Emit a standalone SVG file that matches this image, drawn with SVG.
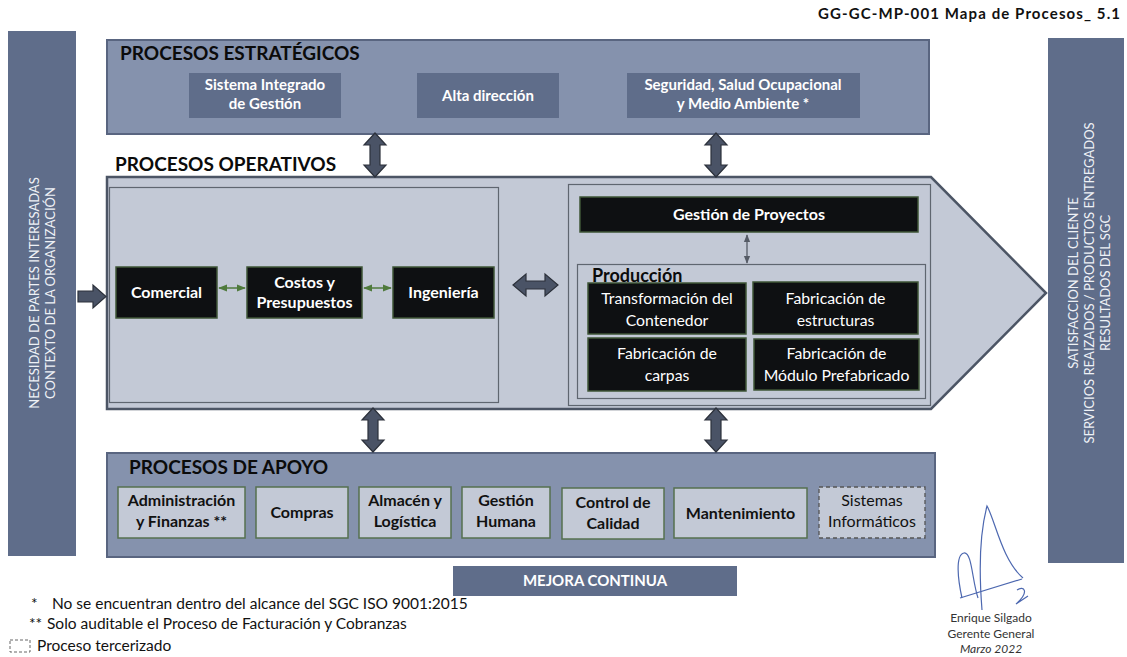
<svg xmlns="http://www.w3.org/2000/svg" width="1127" height="657" viewBox="0 0 1127 657">
<style>
text{font-family:Lato,"Open Sans","Liberation Sans",sans-serif}
.bar{fill:#5f6d8a}
.grp{fill:#8592ad;stroke:#596580;stroke-width:2}
.sub{fill:#5f6d8a}
.light{fill:#c3c9d6}
.blk{fill:#0e1012;stroke:#3f5537;stroke-width:1.5}
.sup{fill:#c3c9d6;stroke:#56704f;stroke-width:1.5}
.arr{fill:#4a5366;stroke:#2c313b;stroke-width:1.2}
.h{font-weight:700;font-size:19px;fill:#0b0b0b}
.sb{font-weight:700;font-size:15px;fill:#fff;text-anchor:middle}
.wb{font-weight:700;font-size:16px;fill:#fff;text-anchor:middle}
.wn{font-size:15.8px;fill:#fff;text-anchor:middle}
.db{font-weight:700;font-size:16px;fill:#111;text-anchor:middle}
.side{font-size:13px;fill:#eef1f6;text-anchor:middle}
.leg{font-size:15.5px;fill:#111}
.sig{font-size:12px;fill:#333;text-anchor:middle}
</style>
<defs>
<path id="vdarrow" d="M0,0 L11,12 L5,12 L5,32 L11,32 L0,44 L-11,32 L-5,32 L-5,12 L-11,12 Z"/>
<marker id="ga" viewBox="0 0 10 10" refX="9" refY="5" markerWidth="6" markerHeight="6" orient="auto-start-reverse"><path d="M0,1 L10,5 L0,9 Z" fill="#4f7a3c"/></marker>
<marker id="sa" viewBox="0 0 10 10" refX="9" refY="5" markerWidth="6" markerHeight="6" orient="auto-start-reverse"><path d="M0,1 L10,5 L0,9 Z" fill="#555b66"/></marker>
</defs>
<rect width="1127" height="657" fill="#fff"/>

<text x="1120" y="19" text-anchor="end" font-weight="700" font-size="15" fill="#111" textLength="302">GG-GC-MP-001 Mapa de Procesos_ 5.1</text>

<g id="entrada">
<rect class="bar" x="8" y="31" width="68" height="525"/>
<text class="side" transform="translate(39,293) rotate(-90)">NECESIDAD DE  PARTES INTERESADAS</text>
<text class="side" transform="translate(55,293) rotate(-90)">CONTEXTO DE LA ORGANIZACIÓN</text>
</g>

<g id="salida">
<rect class="bar" x="1048" y="38" width="76" height="525"/>
<text class="side" transform="translate(1078,283) rotate(-90)">SATISFACCION DEL CLIENTE</text>
<text class="side" transform="translate(1094,283) rotate(-90)">SERVICIOS REAIZADOS / PRODUCTOS ENTREGADOS</text>
<text class="side" transform="translate(1110,283) rotate(-90)">RESULTADOS DEL SGC</text>
</g>

<g id="estrategicos">
<rect class="grp" x="107" y="40" width="822" height="94"/>
<text class="h" x="120" y="60">PROCESOS ESTRATÉGICOS</text>
<g id="sig-gestion"><rect class="sub" x="189" y="73" width="152" height="45"/>
<text class="sb" x="265" y="90">Sistema Integrado</text><text class="sb" x="265" y="109">de Gestión</text></g>
<g id="alta-direccion"><rect class="sub" x="417" y="73" width="142" height="45"/>
<text class="sb" x="488" y="101">Alta dirección</text></g>
<g id="ssoma"><rect class="sub" x="627" y="73" width="233" height="45"/>
<text class="sb" x="743" y="90">Seguridad, Salud Ocupacional</text><text class="sb" x="743" y="109">y Medio Ambiente *</text></g>
</g>

<text class="h" x="115" y="171">PROCESOS OPERATIVOS</text>

<g id="operativos">
<path d="M107,177 L931,177 L1046,293 L931,409 L107,409 Z" class="light" stroke="#4c5565" stroke-width="2.5"/>
<rect x="109.5" y="187.5" width="389" height="215" fill="none" stroke="#5f6670" stroke-width="1.2"/>
<rect x="568.5" y="184.5" width="362" height="221" fill="none" stroke="#5f6670" stroke-width="1.2"/>
<g id="comercial"><rect class="blk" x="116" y="267" width="101" height="51"/><text class="wb" x="166.5" y="298">Comercial</text></g>
<g id="costos"><rect class="blk" x="247" y="267" width="115" height="51"/><text class="wb" x="304.5" y="288">Costos y</text><text class="wb" x="304.5" y="308">Presupuestos</text></g>
<g id="ingenieria"><rect class="blk" x="393" y="267" width="101" height="51"/><text class="wb" x="443.5" y="298">Ingeniería</text></g>
<g id="gestion-proyectos"><rect class="blk" x="580" y="197" width="338" height="35"/><text class="wb" x="749" y="220">Gestión de Proyectos</text></g>
<g id="produccion">
<rect x="577.5" y="264.5" width="348" height="134" fill="none" stroke="#5f6670" stroke-width="1.2"/>
<text x="592" y="282" font-weight="700" font-size="18" fill="#0b0b0b">Producción</text>
<g id="transformacion"><rect class="blk" x="588" y="283" width="158" height="51"/><text class="wn" x="667" y="304">Transformación del</text><text class="wn" x="667" y="326">Contenedor</text></g>
<g id="estructuras"><rect class="blk" x="753" y="282" width="165" height="52"/><text class="wn" x="835.5" y="304">Fabricación de</text><text class="wn" x="835.5" y="326">estructuras</text></g>
<g id="carpas"><rect class="blk" x="588" y="338" width="158" height="53"/><text class="wn" x="667" y="359">Fabricación de</text><text class="wn" x="667" y="381">carpas</text></g>
<g id="modulo"><rect class="blk" x="754" y="339" width="165" height="51"/><text class="wn" x="836.5" y="359">Fabricación de</text><text class="wn" x="836.5" y="381">Módulo Prefabricado</text></g>
</g>
</g>

<g id="apoyo">
<rect class="grp" x="107" y="453" width="828" height="104"/>
<text class="h" x="129" y="474">PROCESOS DE APOYO</text>
<g id="administracion"><rect class="sup" x="118" y="487" width="127" height="51"/><text class="db" x="181.5" y="506">Administración</text><text class="db" x="181.5" y="527">y Finanzas **</text></g>
<g id="compras"><rect class="sup" x="256" y="487" width="92" height="51"/><text class="db" x="302" y="518">Compras</text></g>
<g id="almacen"><rect class="sup" x="359" y="487" width="92" height="51"/><text class="db" x="405" y="506">Almacén y</text><text class="db" x="405" y="527">Logística</text></g>
<g id="gestion-humana"><rect class="sup" x="462" y="487" width="88" height="51"/><text class="db" x="506" y="506">Gestión</text><text class="db" x="506" y="527">Humana</text></g>
<g id="control-calidad"><rect class="sup" x="562" y="488" width="102" height="51"/><text class="db" x="613" y="508">Control de</text><text class="db" x="613" y="529">Calidad</text></g>
<g id="mantenimiento"><rect class="sup" x="674" y="488" width="133" height="50"/><text class="db" x="740.5" y="519">Mantenimiento</text></g>
<g id="sistemas"><rect x="819" y="487" width="106" height="51" fill="#c3c9d6" stroke="#555" stroke-width="1.3" stroke-dasharray="4,3"/><text x="872" y="506" font-size="16" fill="#111" text-anchor="middle">Sistemas</text><text x="872" y="527" font-size="16" fill="#111" text-anchor="middle">Informáticos</text></g>
</g>

<g id="mejora">
<rect class="bar" x="453" y="566" width="284" height="30"/>
<text class="sb" x="595" y="586">MEJORA CONTINUA</text>
</g>

<g id="connectors">
<use href="#vdarrow" class="arr" x="375" y="133"/>
<use href="#vdarrow" class="arr" x="716" y="133"/>
<use href="#vdarrow" class="arr" x="373" y="408"/>
<use href="#vdarrow" class="arr" x="716" y="408"/>
<path class="arr" d="M513,285 L526,274 L526,281 L545,281 L545,274 L558,285 L545,296 L545,289 L526,289 L526,296 Z"/>
<path class="arr" d="M78,291 L93,291 L93,285 L106,296.5 L93,308 L93,302 L78,302 Z"/>
<line x1="219" y1="288" x2="245" y2="288" stroke="#4f7a3c" stroke-width="1.5" marker-start="url(#ga)" marker-end="url(#ga)"/>
<line x1="364" y1="288" x2="391" y2="288" stroke="#4f7a3c" stroke-width="1.5" marker-start="url(#ga)" marker-end="url(#ga)"/>
<line x1="747" y1="235" x2="747" y2="263" stroke="#555b66" stroke-width="1.3" marker-start="url(#sa)" marker-end="url(#sa)"/>
</g>

<g id="leyenda">
<text class="leg" x="31" y="609">*</text>
<text class="leg" x="52" y="609">No se encuentran dentro del alcance del SGC ISO 9001:2015</text>
<text class="leg" x="29" y="629">**</text>
<text class="leg" x="47" y="629">Solo auditable el Proceso de Facturación y Cobranzas</text>
<rect x="10" y="640" width="20" height="12" fill="none" stroke="#666" stroke-width="1" stroke-dasharray="3,2"/>
<text class="leg" x="37" y="651">Proceso tercerizado</text>
</g>

<g id="firma">
<path d="M982,610 C980,585 978,540 987,506 C995,520 1002,560 1023,578" fill="none" stroke="#4d68b0" stroke-width="1.2"/>
<path d="M962,598 C958,580 955,555 964,553 C972,552 972,580 978,598" fill="none" stroke="#4d68b0" stroke-width="1.2"/>
<path d="M960,598 L1022,579" fill="none" stroke="#4d68b0" stroke-width="1.2"/>
<path d="M1017,590 C1024,585 1030,592 1016,604 L1028,596" fill="none" stroke="#4d68b0" stroke-width="1.2"/>
<text class="sig" x="991" y="622">Enrique Silgado</text>
<text class="sig" x="991" y="638">Gerente General</text>
<text class="sig" x="991" y="653" font-style="italic">Marzo 2022</text>
</g>
</svg>
